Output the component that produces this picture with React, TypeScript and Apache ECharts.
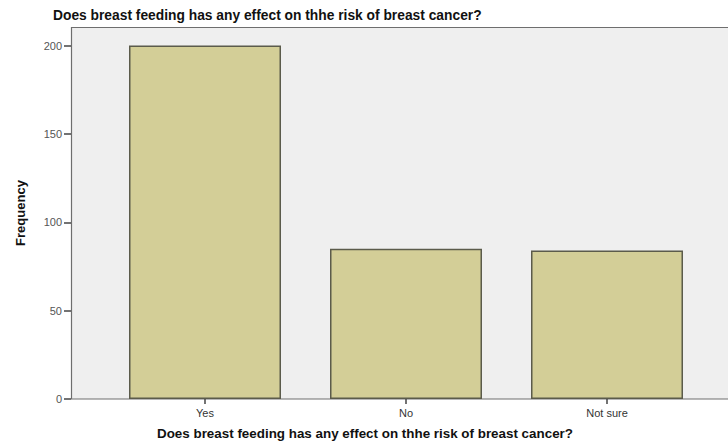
import React, { useEffect, useRef } from "react";
import * as echarts from "echarts";

const categories = ["Yes", "No", "Not sure"];
const frequencies = [200, 85, 84];
const yTicks = [0, 50, 100, 150, 200];
const titleText = "Does breast feeding has any effect on thhe risk of breast cancer?";
const yName = "Frequency";

export default function App() {
  const ref = useRef<HTMLDivElement>(null);
  useEffect(() => {
    if (!ref.current) return;
    const chart = echarts.init(ref.current, null, { renderer: "svg" });
    const font = "'Liberation Sans', Arial, sans-serif";
    chart.setOption({
      animation: false,
      backgroundColor: "#ffffff",
      title: [
        {
          text: titleText,
          left: 53,
          top: 8,
          padding: 0,
          textStyle: { fontFamily: font, fontSize: 13.8, fontWeight: "bold", color: "#111" },
        },
        {
          text: titleText,
          left: 157,
          top: 427,
          padding: 0,
          textStyle: { fontFamily: font, fontSize: 13.4, fontWeight: "bold", color: "#111" },
        },
      ],
      graphic: [
        {
          type: "rect",
          z: -10,
          silent: true,
          shape: { x: 71.5, y: 27.5, width: 700, height: 371.5 },
          style: { fill: "#efefef", stroke: "#6e6e6e", lineWidth: 1.2 },
        },
        {
          type: "text",
          x: 20,
          y: 213,
          rotation: Math.PI / 2,
          style: {
            text: yName,
            fontFamily: font,
            fontSize: 13,
            fontWeight: "bold",
            fill: "#111",
            align: "center",
            verticalAlign: "middle",
          },
        },
      ],
      grid: { left: 104.5, right: 20.5, top: 45.5, bottom: 45 },
      xAxis: {
        type: "category",
        data: categories,
        axisLine: { show: false },
        axisTick: { show: true, alignWithLabel: true, length: 5, lineStyle: { color: "#444", width: 1.5 } },
        axisLabel: { fontFamily: font, fontSize: 11, color: "#333", margin: 8 },
      },
      yAxis: {
        type: "value",
        min: 0,
        max: 200,
        interval: 50,
        offset: 33.5,
        axisLine: { show: false },
        axisTick: { show: true, length: 7, lineStyle: { color: "#444", width: 1.5 } },
        axisLabel: {
          fontFamily: font,
          fontSize: 11,
          color: "#555",
          margin: 9,
          formatter: (v: number) => (yTicks.includes(v) ? String(v) : ""),
        },
        splitLine: { show: false },
      },
      series: [
        {
          type: "bar",
          data: frequencies,
          barWidth: 152,
          itemStyle: { color: "#d3ce97", borderColor: "#5b5b4b", borderWidth: 1.5 },
        },
      ],
    });
    return () => chart.dispose();
  }, []);
  return (
    <div
      ref={ref}
      style={{ position: "fixed", left: 0, top: 0, width: 728, height: 444 }}
    />
  );
}
